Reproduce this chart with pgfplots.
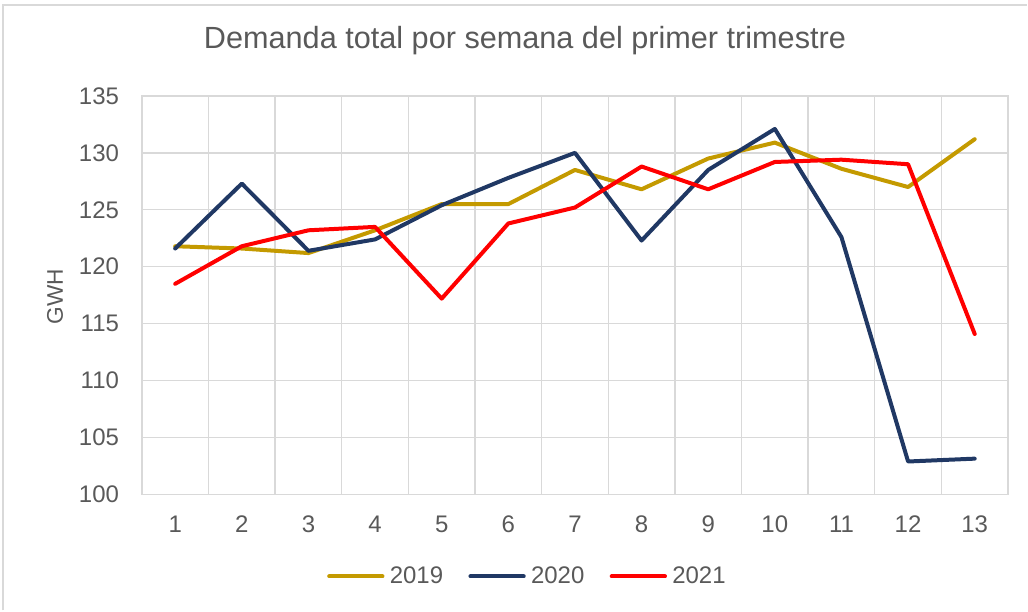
\documentclass[border=0pt]{standalone}
\usepackage{pgfplots}
\pgfplotsset{compat=1.18}
\usepackage{fontspec}
\setmainfont{Liberation Sans}
\definecolor{txt}{HTML}{595959}
\definecolor{grd}{HTML}{D9D9D9}
\definecolor{c19}{HTML}{C49A00}
\definecolor{c20}{HTML}{203864}
\definecolor{c21}{HTML}{FF0000}
\begin{document}
\begin{tikzpicture}
\path (0pt,0pt) rectangle (771pt,458.25pt);
\draw[grd, line width=1.5pt] (2.5pt,0pt) -- (2.5pt,454.5pt) -- (771pt,454.5pt);
\begin{axis}[
  at={(106.5pt,87pt)}, anchor=south west,
  width=650.25pt, height=299.25pt, scale only axis,
  xmin=0.5, xmax=13.5, ymin=100, ymax=135,
  xtick={1,...,13},
  minor xtick={0.5,1.5,...,13.5},
  ytick={100,105,...,135},
  major tick length=0pt, minor tick length=0pt,
  xminorgrids=true, ymajorgrids=true, xmajorgrids=false,
  grid style={draw=grd, line width=1pt},
  minor grid style={draw=grd, line width=1pt},
  axis line style={draw=grd, line width=1pt},
  tick label style={text=txt, font=\fontsize{18}{21}\selectfont},
  /pgf/number format/assume math mode=true,
  xticklabel style={anchor=base, inner sep=0pt, yshift=-28.5pt},
  yticklabel style={anchor=east, inner sep=0pt, xshift=-17pt},
  title={Demanda total por semana del primer trimestre},
  title style={at={(axis description cs:0.4423,1.0977)}, anchor=base, text=txt, font=\fontsize{23}{27}\selectfont, inner sep=0pt},
  ylabel={GWH},
  ylabel style={at={(axis description cs:-0.1003,0.496)}, anchor=center, rotate=0, text=txt, font=\fontsize{17}{20}\selectfont, inner sep=0pt},
  legend columns=3,
  legend style={at={(axis description cs:0.444,-0.2055)}, anchor=center, draw=none, fill=none,
    font=\fontsize{18}{21}\selectfont, text=txt,
    /tikz/every odd column/.append style={column sep=4pt},
    /tikz/every even column/.append style={column sep=19pt},
    nodes={inner sep=0pt}},
  legend image code/.code={\draw[#1] (0pt,0pt) -- (40pt,0pt);},
  every axis plot/.append style={line width=3pt, line join=round, line cap=round},
  clip=false,
]
\addplot[c19] coordinates {(1,121.8) (2,121.6) (3,121.2) (4,123.2) (5,125.5) (6,125.5) (7,128.5) (8,126.8) (9,129.5) (10,130.9) (11,128.6) (12,127.0) (13,131.2)};
\addlegendentry{2019}
\addplot[c20] coordinates {(1,121.6) (2,127.3) (3,121.4) (4,122.4) (5,125.4) (6,127.8) (7,130.0) (8,122.3) (9,128.5) (10,132.1) (11,122.6) (12,102.9) (13,103.15)};
\addlegendentry{2020}
\addplot[c21] coordinates {(1,118.5) (2,121.8) (3,123.2) (4,123.5) (5,117.2) (6,123.8) (7,125.2) (8,128.8) (9,126.8) (10,129.2) (11,129.4) (12,129.0) (13,114.1)};
\addlegendentry{2021}
\end{axis}
\end{tikzpicture}
\end{document}
